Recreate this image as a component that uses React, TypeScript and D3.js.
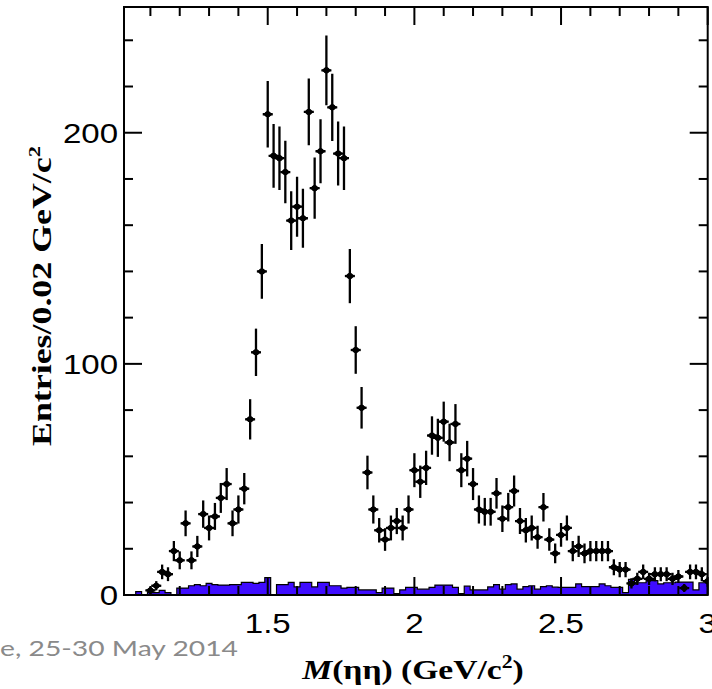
import React from "react";
import * as d3 from "d3";

// Histogram definition
const firstCenter = 1.02;
const binWidth = 0.02;

// Data: entries per 0.02 GeV/c^2 (bin centres 1.02 ... 3.00)
const counts = [
  0, 0, 0, 0, 2, 4, 10, 9, 19, 15,
  31, 15, 21, 35, 29, 34, 42, 48, 31, 37,
  46, 76, 105, 140, 208, 190, 189, 183, 162, 168,
  163, 209, 176, 192, 227, 211, 191, 189, 138, 106,
  81, 53, 37, 28, 24, 29, 32, 29, 37, 54,
  49, 55, 69, 68, 75, 66, 74, 54, 59, 48,
  37, 36, 36, 44, 33, 38, 45, 32, 28, 29,
  25, 38, 24, 18, 26, 29, 19, 21, 18, 19,
  19, 19, 19, 12, 11, 11, 5, 7, 10, 7,
  9, 9, 9, 7, 8, 3, 10, 10, 9, 6,
];

// Background histogram (blue filled)
const background = [
  0, 0, 1.5, 0, 1, 1, 2, 1, 0, 3,
  3, 4, 4.5, 4, 5, 4.5, 4.3, 4.3, 4.5, 4.5,
  5.5, 5.5, 5, 5.5, 7.5, 0, 4.5, 4.5, 5.5, 3.5,
  5.5, 5.5, 3.5, 5.5, 5.5, 4, 4, 3, 3.3, 3.3,
  2.2, 2.2, 2.2, 1, 3, 3, 0.6, 2.2, 3.3, 3.3,
  2.5, 2.5, 3.3, 4.3, 4.3, 4.3, 3.3, 0.6, 3.8, 2.2,
  2.2, 2.2, 3.5, 4.5, 2.5, 4.5, 4.8, 2.5, 3.6, 4,
  2.5, 3.6, 4, 3.4, 3.3, 3.3, 3.3, 4.8, 3.6, 3.6,
  3.6, 4.8, 4, 3.3, 3.3, 1, 6.8, 5.3, 5.3, 6.2,
  6.2, 4.8, 5.3, 5.3, 5.6, 5.6, 5.6, 2.2, 5.3, 5.3,
];

const xMajorTicks = [1.5, 2, 2.5, 3];
const xTickLabels = ["1.5", "2", "2.5", "3"];
const yMajorTicks = [0, 100, 200];
const yTickLabels = ["0", "100", "200"];

const W = 712;
const H = 689;
const left = 124;
const right = 707.7;
const top = 7;
const bottom = 595;

export default function App() {
  const x = d3.scaleLinear().domain([1.01, 3.0]).range([left, right]);
  const y = d3.scaleLinear().domain([0, 254.4]).range([bottom, top]);

  const centers = counts.map((_, i) => firstCenter + binWidth * i);

  const bgPts: [number, number][] = [];
  background.forEach((v, i) => {
    const c = centers[i];
    bgPts.push([c - binWidth / 2, v]);
    bgPts.push([c + binWidth / 2, v]);
  });
  const area = d3
    .area<[number, number]>()
    .x((d) => x(d[0]))
    .y0(y(0))
    .y1((d) => y(d[1]));
  const line = d3
    .line<[number, number]>()
    .x((d) => x(d[0]))
    .y((d) => y(d[1]));

  const xMinor = d3.range(11, 30).map((v) => v / 10).filter((v) => Math.abs(v * 2 - Math.round(v * 2)) > 1e-6);
  const yMinor = d3.range(20, 254, 20).filter((v) => v % 100 !== 0);
  const sx = 1.18;

  return (
    <svg
      width={W}
      height={H}
      style={{ position: "absolute", left: 0, top: 0, background: "#fff" }}
    >
      <defs>
        <clipPath id="plot">
          <rect x={left} y={top} width={right - left} height={bottom - top} />
        </clipPath>
      </defs>
      <g clipPath="url(#plot)">
        <path d={area(bgPts) || ""} fill="#3f0cff" stroke="none" />
        <path d={line(bgPts) || ""} fill="none" stroke="#000" strokeWidth={1.2} />
        {counts.map((v, i) => {
          if (v <= 0) return null;
          const cx = x(centers[i]);
          const cy = y(v);
          const e = Math.sqrt(v);
          return (
            <g key={i}>
              <line x1={cx} x2={cx} y1={y(v + e)} y2={y(Math.max(0, v - e))} stroke="#000" strokeWidth={2.3} />
              <line x1={x(centers[i] - 0.017)} x2={x(centers[i] + 0.017)} y1={cy} y2={cy} stroke="#000" strokeWidth={2.3} />
              <path
                d={`M${cx - 5},${cy} L${cx},${cy - 3.6} L${cx + 5},${cy} L${cx},${cy + 3.6} Z`}
                fill="#000"
              />
              <circle cx={cx} cy={cy} r={3} fill="#000" />
            </g>
          );
        })}
      </g>
      <rect x={left} y={top} width={right - left} height={bottom - top} fill="none" stroke="#000" strokeWidth={2} />
      {xMajorTicks.map((t) => (
        <g key={"xm" + t}>
          <line x1={x(t)} x2={x(t)} y1={bottom} y2={bottom - 18} stroke="#000" strokeWidth={2} />
          <line x1={x(t)} x2={x(t)} y1={top} y2={top + 18} stroke="#000" strokeWidth={2} />
        </g>
      ))}
      {xMinor.map((t) => (
        <g key={"xn" + t}>
          <line x1={x(t)} x2={x(t)} y1={bottom} y2={bottom - 9} stroke="#000" strokeWidth={2} />
          <line x1={x(t)} x2={x(t)} y1={top} y2={top + 9} stroke="#000" strokeWidth={2} />
        </g>
      ))}
      {yMajorTicks.map((t) => (
        <g key={"ym" + t}>
          <line x1={left} x2={left + 18} y1={y(t)} y2={y(t)} stroke="#000" strokeWidth={2} />
          <line x1={right} x2={right - 18} y1={y(t)} y2={y(t)} stroke="#000" strokeWidth={2} />
        </g>
      ))}
      {yMinor.map((t) => (
        <g key={"yn" + t}>
          <line x1={left} x2={left + 9} y1={y(t)} y2={y(t)} stroke="#000" strokeWidth={2} />
          <line x1={right} x2={right - 9} y1={y(t)} y2={y(t)} stroke="#000" strokeWidth={2} />
        </g>
      ))}
      {yMajorTicks.map((t, i) => (
        <text
          key={"yl" + t}
          transform={`translate(118,${y(t) + 10}) scale(${sx},1)`}
          textAnchor="end"
          fontFamily="'Liberation Sans', Arial, sans-serif"
          fontSize={28}
          fill="#000"
        >
          {yTickLabels[i]}
        </text>
      ))}
      {xMajorTicks.map((t, i) => (
        <text
          key={"xl" + t}
          transform={`translate(${x(t)},633) scale(${sx},1)`}
          textAnchor="middle"
          fontFamily="'Liberation Sans', Arial, sans-serif"
          fontSize={28}
          fill="#000"
        >
          {xTickLabels[i]}
        </text>
      ))}
      <text
        transform={`translate(51,296) rotate(-90)`}
        textAnchor="middle"
        fontFamily="'Liberation Serif', 'Times New Roman', serif"
        fontWeight="bold"
        fontSize={27}
        fill="#000"
        textLength={300}
        lengthAdjust="spacingAndGlyphs"
      >
        Entries/0.02 GeV/c<tspan dy={-11} fontSize={17}>2</tspan>
      </text>
      <text
        transform={`translate(413,679) scale(1.2,1)`}
        textAnchor="middle"
        fontFamily="'Liberation Serif', 'Times New Roman', serif"
        fontWeight="bold"
        fontSize={28}
        fill="#000"
      >
        <tspan fontStyle="italic">M</tspan>(ηη) (GeV/c<tspan dy={-11} fontSize={18}>2</tspan>
        <tspan dy={11}>)</tspan>
      </text>
      <text
        x={0}
        y={656}
        fontFamily="Lato, 'Open Sans', sans-serif"
        fontSize={22}
        fill="#8a8a8a"
        textLength={238}
        lengthAdjust="spacingAndGlyphs"
      >
        e, 25-30 May 2014
      </text>
    </svg>
  );
}
